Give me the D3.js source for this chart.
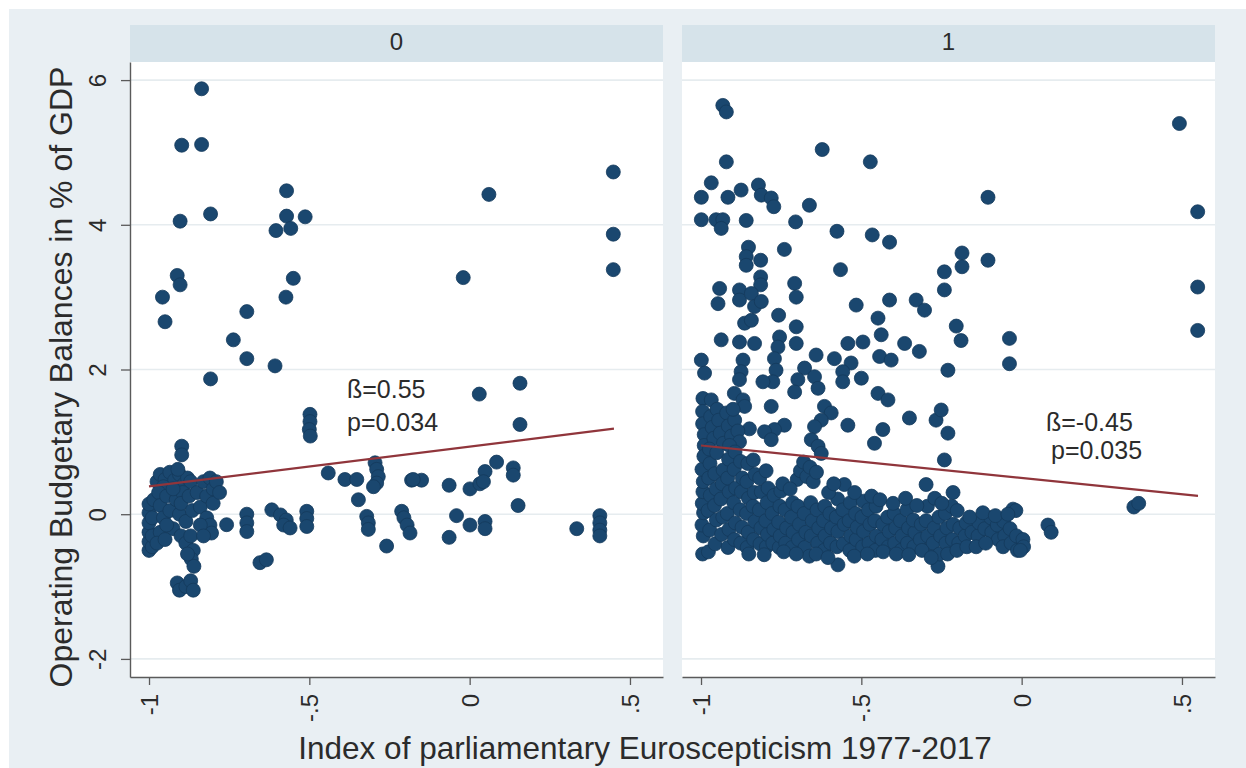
<!DOCTYPE html>
<html>
<head>
<meta charset="utf-8">
<script src="https://cdn.jsdelivr.net/npm/d3@7/dist/d3.min.js"></script>
<style>
  html, body { margin: 0; padding: 0; background: #ffffff; }
  svg { display: block; }
  text { font-family: Arial, "Liberation Sans", Helvetica, sans-serif; fill: #2b2b2b; }
</style>
</head>
<body>
<svg id="chart" width="1246" height="768"></svg>
<script>
// ---- data -------------------------------------------------------------
const panelLabels = ["0", "1"];
const xTicks = [-1, -0.5, 0, 0.5];
const xTickLabels = ["-1", "-.5", "0", ".5"];
const yTicks = [-2, 0, 2, 4, 6];
const yTickLabels = ["-2", "0", "2", "4", "6"];
const xTitle = "Index of parliamentary Euroscepticism 1977-2017";
const yTitle = "Operating Budgetary Balances in % of GDP";

// linear fit per panel: slope (ß), intercept, x-range of the fitted line
const fitSlope = [0.55, -0.45];
const fitIntercept = [0.935, 0.50];
const fitRange = [[-1, 0.45], [-1, 0.55]];
const fitLabels = [["ß=0.55", "p=0.034"], ["ß=-0.45", "p=0.035"]];

// panel 0: [euroscepticism index, operating balance]
const points0 = [
  [-0.836,5.88],[-0.898,5.10],[-0.836,5.11],[-0.571,4.47],[-0.571,4.12],[-0.513,4.11],
  [-0.604,3.92],[-0.558,3.95],[-0.903,4.05],[-0.808,4.15],[-0.912,3.30],[-0.903,3.17],
  [-0.958,3.00],[-0.950,2.66],[-0.695,2.80],[-0.550,3.26],[-0.573,3.00],[-0.737,2.41],
  [-0.695,2.15],[-0.607,2.05],[-0.808,1.87],
  [-0.498,1.38],[-0.498,1.28],[-0.500,1.17],[-0.497,1.08],[-0.898,0.94],[-0.898,0.82],
  [0.448,4.73],[0.060,4.42],[0.448,3.87],[0.448,3.38],[-0.020,3.27],[0.157,1.81],
  [0.030,1.66],[0.157,1.24],
  [-0.181,0.47],[-0.150,0.47],[-0.064,0.40],[0.001,0.35],[0.032,0.42],[0.048,0.59],
  [0.084,0.72],[0.043,0.45],[0.136,0.64],[0.136,0.54],[0.151,0.12],
  [-0.041,-0.02],[0.001,-0.15],[0.048,-0.10],[0.048,-0.20],[-0.064,-0.32],[0.334,-0.20],
  [0.406,-0.02],[0.406,-0.12],[0.406,-0.22],[0.406,-0.30],
  [-0.212,0.04],[-0.205,-0.05],[-0.195,-0.15],[-0.186,-0.26],
  [-0.441,0.57],[-0.389,0.48],[-0.352,0.48],[-0.295,0.71],[-0.290,0.62],[-0.285,0.52],
  [-0.290,0.43],[-0.300,0.38],[-0.347,0.20],[-0.321,-0.03],[-0.316,-0.12],[-0.316,-0.21],
  [-0.259,-0.44],[-0.176,0.48],
  [-1.000,-0.50],[-1.000,-0.38],[-1.000,-0.25],[-1.000,-0.12],[-1.000,0.02],[-1.000,0.14],
  [-0.990,-0.45],[-0.990,-0.30],[-0.990,-0.05],[-0.985,0.20],
  [-0.975,0.45],[-0.965,0.55],[-0.950,0.48],[-0.935,0.58],[-0.920,0.47],[-0.905,0.55],
  [-0.890,0.42],[-0.880,0.50],[-0.955,0.38],[-0.910,0.62],[-0.870,0.45],
  [-0.970,0.30],[-0.965,0.12],[-0.955,-0.05],[-0.945,0.25],[-0.935,0.05],[-0.925,-0.20],
  [-0.915,0.20],[-0.905,0.00],[-0.895,0.30],[-0.885,-0.10],[-0.965,-0.25],[-0.945,-0.15],
  [-0.925,0.35],[-0.900,0.15],[-0.875,0.25],[-0.865,0.05],[-0.975,-0.40],[-0.950,-0.35],
  [-0.900,-0.30],[-0.885,-0.40],[-0.870,-0.30],[-0.862,-0.50],[-0.868,-0.62],[-0.860,-0.72],
  [-0.880,-0.55],
  [-0.912,-0.95],[-0.905,-1.05],[-0.885,-1.00],[-0.870,-0.92],[-0.862,-1.05],
  [-0.850,0.30],[-0.840,0.10],[-0.830,0.45],[-0.820,0.25],[-0.820,-0.05],[-0.810,0.50],
  [-0.800,0.35],[-0.800,0.15],[-0.790,0.45],[-0.780,0.30],[-0.810,-0.15],[-0.805,-0.26],
  [-0.840,-0.15],[-0.830,-0.30],
  [-0.758,-0.145],[-0.695,0.00],[-0.695,-0.12],[-0.695,-0.24],[-0.654,-0.67],[-0.634,-0.63],
  [-0.617,0.06],[-0.590,-0.01],[-0.572,-0.08],[-0.580,-0.15],[-0.560,-0.19],
  [-0.508,0.04],[-0.508,-0.06],[-0.508,-0.17]
];

// panel 1: [euroscepticism index, operating balance]
const points1 = [
  [-0.932,5.65],[-0.921,5.56],[-0.622,5.04],[-0.472,4.87],[-0.921,4.87],[-0.968,4.58],
  [-0.999,4.38],[-0.916,4.38],[-0.875,4.48],[-0.821,4.55],[-0.812,4.41],[-0.781,4.37],
  [-0.773,4.25],[-0.662,4.27],
  [-0.999,4.07],[-0.953,4.07],[-0.932,4.07],[-0.937,3.95],[-0.859,4.06],[-0.705,4.04],
  [-0.576,3.91],[-0.466,3.86],[-0.412,3.76],
  [-0.852,3.69],[-0.859,3.56],[-0.859,3.44],[-0.814,3.51],[-0.740,3.66],[-0.814,3.28],
  [-0.814,3.17],[-0.565,3.38],[-0.241,3.35],[-0.241,3.10],
  [-0.942,3.12],[-0.947,2.91],[-0.880,3.10],[-0.880,2.96],[-0.843,3.05],[-0.833,2.87],
  [-0.812,2.94],[-0.708,3.19],[-0.703,3.00],[-0.516,2.89],[-0.412,2.96],[-0.329,2.96],
  [-0.303,2.82],[-0.448,2.71],[-0.758,2.75],
  [-0.864,2.64],[-0.843,2.68],[-0.703,2.59],[-0.438,2.48],
  [-0.937,2.41],[-0.880,2.38],[-0.833,2.36],[-0.755,2.45],[-0.760,2.31],[-0.703,2.36],
  [-0.542,2.36],[-0.495,2.38],[-0.365,2.36],[-0.319,2.25],
  [-0.999,2.13],[-0.989,1.95],[-0.869,2.13],[-0.875,1.97],[-0.880,1.86],[-0.771,2.15],
  [-0.766,1.99],[-0.776,1.83],[-0.807,1.83],[-0.641,2.20],[-0.584,2.15],[-0.532,2.09],
  [-0.677,2.02],[-0.698,1.86],[-0.708,1.69],[-0.646,1.90],[-0.635,1.74],[-0.558,1.97],
  [-0.558,1.83],[-0.500,1.88],[-0.443,2.18],[-0.407,2.13],[-0.448,1.67],[-0.417,1.58],
  [-0.230,1.99],
  [-0.994,1.60],[-0.968,1.58],[-0.896,1.67],[-0.869,1.58],[-0.864,1.49],[-0.781,1.49],
  [-0.740,1.23],[-0.771,1.17],[-0.802,1.14],[-0.781,1.03],[-0.849,1.18],
  [-0.615,1.49],[-0.594,1.40],[-0.625,1.30],[-0.646,1.21],[-0.656,1.03],[-0.635,0.94],
  [-0.625,0.84],[-0.542,1.23],[-0.433,1.17],[-0.459,0.98],[-0.350,1.33],[-0.267,1.30],
  [-0.230,1.12],[-0.241,0.75],[-0.298,0.41],[-0.553,0.41],[-0.251,1.44],
  [-0.105,4.38],[-0.105,3.51],[-0.186,3.61],[-0.186,3.42],[-0.204,2.60],[-0.189,2.40],
  [-0.038,2.43],[-0.038,2.08],
  [0.492,5.40],[0.549,4.18],[0.549,3.14],[0.549,2.54],
  [0.350,0.10],[0.365,0.15],[-0.027,0.07],[0.082,-0.15],[0.092,-0.25],
  [-0.995,1.42],[-0.995,1.25],[-0.990,1.10],[-0.990,0.95],[-0.970,1.35],[-0.965,1.20],
  [-0.960,1.05],[-0.950,1.45],[-0.945,1.30],[-0.940,1.12],[-0.930,0.98],[-0.920,1.40],
  [-0.915,1.22],[-0.905,1.08],[-0.895,1.30],[-0.885,1.15],[-0.880,1.00],[-0.900,1.45],
  [-0.700,0.48],[-0.690,0.60],[-0.680,0.72],[-0.670,0.52],[-0.660,0.65],[-0.650,0.45],
  [-0.640,0.58],
  [-0.995,-0.55],[-0.993,-0.30],[-0.997,-0.15],[-0.992,0.02],[-0.996,0.15],[-0.994,0.31],
  [-0.993,0.45],[-0.997,0.62],[-0.991,0.80],
  [-0.977,-0.52],[-0.973,-0.22],[-0.978,0.05],[-0.971,0.26],[-0.976,0.50],[-0.972,0.70],
  [-0.974,0.90],
  [-0.956,-0.41],[-0.952,-0.08],[-0.958,0.12],[-0.953,0.35],[-0.957,0.56],[-0.951,0.85],
  [-0.936,-0.28],[-0.932,-0.04],[-0.938,0.21],[-0.934,0.42],[-0.931,0.61],
  [-0.916,-0.46],[-0.913,-0.21],[-0.918,0.01],[-0.912,0.31],[-0.917,0.50],[-0.914,0.76],
  [-0.911,0.95],
  [-0.896,-0.35],[-0.893,-0.12],[-0.898,0.16],[-0.892,0.36],[-0.897,0.62],[-0.894,0.86],
  [-0.876,-0.40],[-0.872,-0.18],[-0.878,0.06],[-0.874,0.31],[-0.871,0.50],[-0.877,0.73],
  [-0.856,-0.46],[-0.853,-0.25],[-0.858,0.01],[-0.852,0.22],[-0.857,0.45],[-0.854,0.70],
  [-0.836,-0.35],[-0.832,-0.10],[-0.838,0.11],[-0.834,0.30],[-0.831,0.55],[-0.837,0.75],
  [-0.816,-0.41],[-0.813,-0.19],[-0.818,0.06],[-0.812,0.31],[-0.817,0.50],
  [-0.796,-0.45],[-0.793,-0.28],[-0.798,-0.09],[-0.794,0.16],[-0.791,0.36],[-0.797,0.60],
  [-0.776,-0.40],[-0.773,-0.21],[-0.778,0.01],[-0.772,0.26],
  [-0.756,-0.46],[-0.753,-0.30],[-0.758,-0.11],[-0.754,0.11],[-0.751,0.32],
  [-0.736,-0.40],[-0.733,-0.19],[-0.738,0.06],
  [-0.716,-0.46],[-0.713,-0.25],[-0.718,-0.04],[-0.714,0.16],
  [-0.696,-0.35],[-0.693,-0.14],[-0.698,0.11],
  [-0.676,-0.46],[-0.673,-0.25],[-0.678,0.01],
  [-0.662,-0.58],[-0.656,-0.30],[-0.653,-0.09],[-0.658,0.16],
  [-0.636,-0.40],[-0.633,-0.19],[-0.638,0.06],
  [-0.616,-0.50],[-0.613,-0.30],[-0.618,-0.09],[-0.614,0.11],
  [-0.596,-0.40],[-0.593,-0.19],[-0.598,0.01],
  [-0.573,-0.70],[-0.576,-0.45],[-0.573,-0.24],[-0.578,-0.04],[-0.574,0.21],
  [-0.556,-0.41],[-0.553,-0.14],[-0.558,0.06],
  [-0.536,-0.50],[-0.533,-0.30],[-0.538,-0.09],[-0.534,0.16],
  [-0.516,-0.35],[-0.513,-0.18],[-0.518,0.01],
  [-0.496,-0.45],[-0.493,-0.24],[-0.498,-0.04],[-0.494,0.18],
  [-0.476,-0.40],[-0.473,-0.14],[-0.478,0.06],
  [-0.456,-0.50],[-0.453,-0.30],[-0.458,-0.09],[-0.454,0.11],
  [-0.436,-0.35],[-0.433,-0.14],
  [-0.416,-0.45],[-0.413,-0.24],[-0.418,-0.04],
  [-0.396,-0.40],[-0.393,-0.19],[-0.398,0.01],
  [-0.376,-0.50],[-0.373,-0.30],[-0.378,-0.09],
  [-0.356,-0.40],[-0.353,-0.19],[-0.358,0.06],
  [-0.336,-0.45],[-0.333,-0.25],[-0.338,-0.08],
  [-0.316,-0.35],[-0.313,-0.14],
  [-0.296,-0.50],[-0.293,-0.30],[-0.298,-0.09],[-0.294,0.11],
  [-0.276,-0.40],[-0.273,-0.19],
  [-0.261,-0.72],[-0.256,-0.55],[-0.253,-0.30],[-0.258,-0.04],
  [-0.236,-0.40],[-0.233,-0.19],[-0.238,0.01],
  [-0.216,-0.35],[-0.213,-0.14],[-0.218,0.11],[-0.214,0.30],
  [-0.196,-0.40],[-0.193,-0.19],
  [-0.176,-0.30],[-0.173,-0.12],
  [-0.155,-0.25],
  [-0.136,-0.30],[-0.133,-0.12],
  [-0.115,-0.20],
  [-0.096,-0.05],[-0.093,-0.25],
  [-0.076,-0.15],[-0.073,-0.35],
  [-0.056,-0.10],[-0.053,-0.30],[-0.058,-0.45],
  [-0.036,-0.20],[-0.033,-0.40],
  [-0.016,-0.30],[-0.013,-0.50],[-0.018,0.05],
  [0.004,-0.35],[0.006,-0.45],
  [-0.745,0.42],[-0.722,0.35],[-0.602,0.30],[-0.586,0.42],[-0.521,0.30],[-0.468,0.25],
  [-0.442,0.20],[-0.401,0.15],[-0.362,0.22],[-0.327,0.12],[-0.271,0.22],[-0.249,0.15],
  [-0.201,0.05],[-0.162,-0.04],[-0.121,0.02],[-0.082,-0.02],[-0.043,0.00],
  [-0.851,-0.55],[-0.803,-0.56],[-0.742,-0.52],[-0.703,-0.55],[-0.641,-0.55],[-0.604,-0.60],
  [-0.522,-0.58],[-0.481,-0.55],[-0.432,-0.52],[-0.391,-0.55],[-0.352,-0.56],[-0.311,-0.50],
  [-0.282,-0.60],[-0.231,-0.55],[-0.202,-0.50],[-0.171,-0.45],[-0.142,-0.45],[-0.112,-0.40],
  [-0.004,-0.50]
];

const panelPoints = [points0, points1];

// ---- layout -----------------------------------------------------------
const svg = d3.select("#chart");
const W = 1246, H = 768;
const plotTop = 62, plotBottom = 677, stripTop = 25;
const panelRanges = [[130, 663], [682, 1215]];
const xDomain = [-1.0593, 0.603];
const yDomain = [-2.25, 6.25];

const colors = {
  outer: "#e9eff3",
  strip: "#d6e3ea",
  plot: "#ffffff",
  grid: "#e6ecef",
  axis: "#5a5a5a",
  dot: "#1a476f",
  dotEdge: "#143a5c",
  fit: "#90353b"
};

svg.append("rect").attr("x", 0).attr("y", 0).attr("width", W).attr("height", H)
  .attr("fill", "#ffffff");
svg.append("rect").attr("x", 9).attr("y", 9).attr("width", W - 9).attr("height", H - 9)
  .attr("fill", colors.outer);

const y = d3.scaleLinear().domain(yDomain).range([plotBottom, plotTop]);

panelLabels.forEach((label, i) => {
  const [x0, x1] = panelRanges[i];
  const x = d3.scaleLinear().domain(xDomain).range([x0, x1]);
  const g = svg.append("g");

  // strip header
  g.append("rect").attr("x", x0).attr("y", stripTop)
    .attr("width", x1 - x0).attr("height", plotTop - stripTop)
    .attr("fill", colors.strip);
  g.append("text").attr("x", (x0 + x1) / 2).attr("y", 50)
    .attr("text-anchor", "middle").attr("font-size", 24).text(label);

  // plot area
  g.append("rect").attr("x", x0).attr("y", plotTop)
    .attr("width", x1 - x0).attr("height", plotBottom - plotTop)
    .attr("fill", colors.plot);

  // horizontal grid
  g.append("g").selectAll("line").data(yTicks).join("line")
    .attr("x1", x0).attr("x2", x1)
    .attr("y1", d => y(d)).attr("y2", d => y(d))
    .attr("stroke", colors.grid).attr("stroke-width", 1.6);

  // scatter
  g.append("g").selectAll("circle").data(panelPoints[i]).join("circle")
    .attr("cx", d => x(d[0])).attr("cy", d => y(d[1]))
    .attr("r", 7)
    .attr("fill", colors.dot)
    .attr("stroke", colors.dotEdge).attr("stroke-width", 0.8);

  // fitted line
  const fit = fitRange[i].map(v => [v, fitIntercept[i] + fitSlope[i] * v]);
  g.append("path")
    .attr("d", d3.line().x(d => x(d[0])).y(d => y(d[1]))(fit))
    .attr("fill", "none").attr("stroke", colors.fit).attr("stroke-width", 2.2);

  // x axis
  const xAxis = g.append("g").attr("transform", `translate(0,${plotBottom})`)
    .call(d3.axisBottom(x).tickValues(xTicks)
      .tickFormat((d, k) => xTickLabels[k]).tickSize(8).tickSizeOuter(0));
  xAxis.select(".domain").attr("stroke", colors.axis).attr("stroke-width", 1.4);
  xAxis.selectAll(".tick line").attr("stroke", colors.axis).attr("stroke-width", 1.3);
  xAxis.selectAll(".tick text")
    .attr("x", 0).attr("y", 0).attr("dy", "0.36em")
    .attr("transform", "translate(0,17) rotate(-90)")
    .attr("text-anchor", "end")
    .attr("font-size", 24).attr("fill", "#2b2b2b")
    .attr("font-family", "Arial, 'Liberation Sans', sans-serif");

  // y axis on the first panel only
  if (i === 0) {
    const yAxis = g.append("g").attr("transform", `translate(${x0},0)`)
      .call(d3.axisLeft(y).tickValues(yTicks)
        .tickFormat((d, k) => yTickLabels[k]).tickSize(9).tickSizeOuter(0));
    yAxis.select(".domain").attr("stroke", colors.axis).attr("stroke-width", 1.4);
    yAxis.selectAll(".tick line").attr("stroke", colors.axis).attr("stroke-width", 1.3);
    yAxis.selectAll(".tick text")
      .attr("x", 0).attr("y", 0).attr("dy", 0)
      .attr("transform", "translate(-24,0) rotate(-90)")
      .attr("text-anchor", "middle")
      .attr("font-size", 24).attr("fill", "#2b2b2b")
      .attr("font-family", "Arial, 'Liberation Sans', sans-serif");
  }

  // slope annotation
  const ann = i === 0 ? [[347, 398], [347, 431]] : [[1046, 431], [1051, 459]];
  fitLabels[i].forEach((t, k) => {
    g.append("text").attr("x", ann[k][0]).attr("y", ann[k][1])
      .attr("font-size", 25).attr("fill", "#333").text(t);
  });
});

// axis titles
svg.append("text").attr("x", 645).attr("y", 759)
  .attr("text-anchor", "middle").attr("font-size", 31.5).attr("fill", "#333")
  .text(xTitle);
svg.append("text").attr("transform", "translate(72,377) rotate(-90)")
  .attr("text-anchor", "middle").attr("font-size", 32).attr("fill", "#333")
  .text(yTitle);
</script>
</body>
</html>
